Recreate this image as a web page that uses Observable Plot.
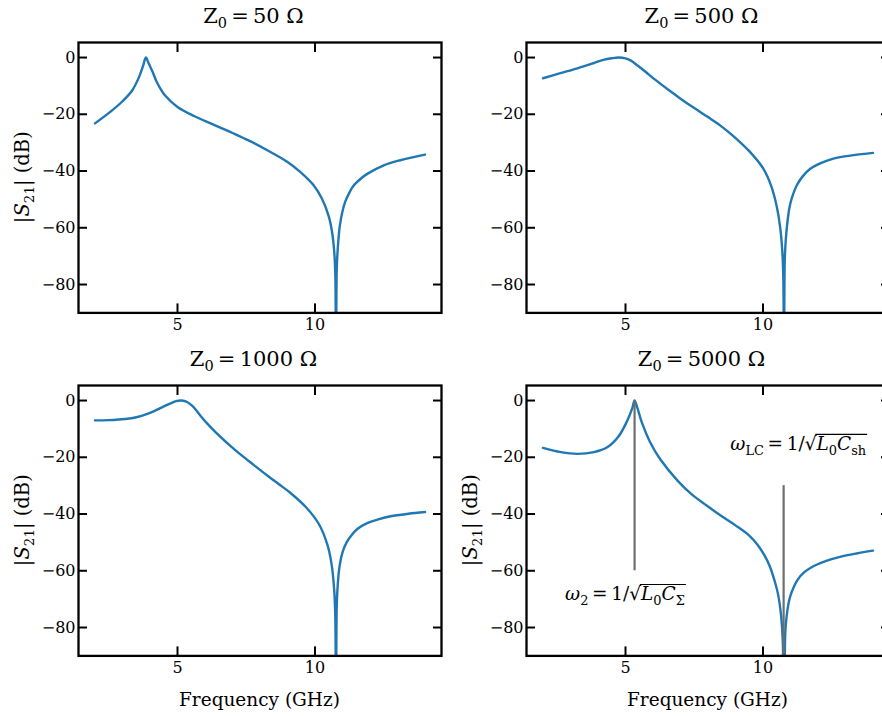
<!DOCTYPE html>
<html><head><meta charset="utf-8">
<script src="https://cdn.jsdelivr.net/npm/d3@7"></script>
<script src="https://cdn.jsdelivr.net/npm/@observablehq/plot@0.6"></script>
<style>
body{margin:0;background:#fff;}
#wrap{position:relative;width:882px;height:716px;overflow:hidden;background:#fff;}
#wrap svg{position:absolute;}
</style></head><body><div id="wrap"></div>
<script>
// ---- data ----
const impedances = ["50", "500", "1000", "5000"];
const xTicks = [5, 10];
const yTicks = [0, -20, -40, -60, -80];

const freq50 = [2.0, 2.6, 3.0, 3.35, 3.6, 3.75, 3.85, 3.95, 4.1, 4.25, 4.55, 5.0, 5.6, 6.25, 7.0, 7.6, 8.25, 9.0, 9.45, 9.95, 10.25, 10.5, 10.62, 10.7, 10.74, 10.765, 10.79, 10.83, 10.9, 11.0, 11.1, 11.25, 11.4, 11.65, 11.9, 12.5, 13.1, 14.0];
const s21_50 = [-23.2, -18.8, -15.4, -11.6, -6.9, -2.9, 0, -2.0, -5.2, -8.7, -13.4, -17.4, -20.6, -23.4, -26.6, -29.3, -32.6, -36.8, -40.2, -45.0, -49.7, -56.0, -61.5, -68.5, -77, -150, -75, -67, -59.5, -54.2, -50.8, -47.6, -45.2, -42.8, -41.0, -38.0, -36.2, -34.2];

const freq500 = [2.0, 2.6, 3.25, 3.8, 4.2, 4.5, 4.75, 5.0, 5.2, 5.45, 5.75, 6.05, 6.65, 7.0, 7.5, 8.0, 8.45, 8.9, 9.5, 10.0, 10.3, 10.5, 10.62, 10.7, 10.74, 10.765, 10.79, 10.83, 10.9, 10.96, 11.05, 11.23, 11.45, 11.72, 12.1, 12.56, 13.29, 14.0];
const s21_500 = [-7.3, -5.6, -3.8, -2.1, -0.8, -0.25, 0, -0.3, -1.1, -2.9, -5.2, -7.6, -12.0, -14.5, -17.8, -21.0, -24.0, -27.5, -33.0, -39.0, -45.3, -52.5, -59.5, -68, -78, -150, -72, -64, -57, -53, -49.5, -45.0, -41.8, -39.2, -37.2, -35.6, -34.4, -33.6];

const freq1000 = [2.0, 2.5, 3.1, 3.5, 3.85, 4.15, 4.45, 4.75, 4.95, 5.15, 5.35, 5.55, 5.8, 6.05, 6.4, 7.1, 7.85, 8.3, 8.7, 9.1, 9.7, 10.15, 10.45, 10.6, 10.7, 10.74, 10.765, 10.79, 10.83, 10.9, 11.0, 11.15, 11.3, 11.55, 11.9, 12.3, 12.75, 13.4, 14.0];
const s21_1000 = [-7.0, -6.9, -6.5, -5.9, -4.9, -3.7, -2.3, -1.0, -0.2, 0, -0.5, -2.0, -4.9, -7.8, -11.3, -17.5, -23.3, -26.7, -29.6, -32.5, -37.9, -43.7, -50.8, -57.5, -67, -77, -150, -73, -64.5, -58, -53.5, -50, -47.8, -45.2, -43.2, -41.9, -40.8, -39.9, -39.3];

const freq5000 = [2.0, 2.65, 3.25, 3.85, 4.35, 4.75, 5.05, 5.25, 5.33, 5.42, 5.6, 5.9, 6.27, 6.9, 7.4, 7.95, 8.5, 9.0, 9.5, 9.8, 10.05, 10.25, 10.45, 10.55, 10.66, 10.72, 10.765, 10.81, 10.86, 10.95, 11.05, 11.25, 11.5, 11.85, 12.3, 12.8, 13.4, 14.0];
const s21_5000 = [-16.7, -18.2, -18.8, -18.2, -16.4, -12.6, -7.4, -2.6, 0, -2.2, -7.9, -14.8, -20.8, -28.3, -33.0, -37.0, -40.8, -44.0, -47.6, -50.8, -54.5, -58.5, -64.5, -68.4, -76, -85, -150, -82, -76, -70.5, -67.3, -63.3, -60.5, -58.3, -56.5, -55.1, -53.9, -52.9];

// annotation lines in the Z0 = 5000 Ω panel
const annotFreq = [5.33, 10.75];
const annotTop = [0, -30];
const annotBottom = [-60, -90];

// ---- layout ----
const FW = 363, FH = 270.4, ML = 78, MR = 22, MT = 44, MB = 62;
const FONT = "DejaVu Serif";
const panels = [
  {f: freq50,   s: s21_50,   z: impedances[0], left: 78,    top: 42.3,  ylab: true, xlab: false},
  {f: freq500,  s: s21_500,  z: impedances[1], left: 526.3, top: 42.3,  ylab: false, xlab: false},
  {f: freq1000, s: s21_1000, z: impedances[2], left: 78,    top: 384.5, ylab: true, xlab: true},
  {f: freq5000, s: s21_5000, z: impedances[3], left: 526.3, top: 384.5, ylab: true, xlab: true, annot: true}
];
const wrap = document.getElementById("wrap");

function mathText(g, cx, cy, parts, fs) {
  const base = cy + 0.34 * fs;
  const t = g.append("text").attr("x", 0).attr("y", base).attr("text-anchor", "start")
    .attr("font-size", fs).attr("font-family", FONT).attr("fill", "black");
  let shifted = false, idx = 0, overStart = -1, overEnd = -1;
  const sub = 0.26 * fs;
  for (const p of parts) {
    const ts = t.append("tspan").text(p.t);
    let dy = 0;
    if (p.sub && !shifted) { dy = sub; shifted = true; }
    else if (!p.sub && shifted) { dy = -sub; shifted = false; }
    if (dy) ts.attr("dy", dy);
    if (p.sub) ts.attr("font-size", 0.7 * fs);
    if (p.it) ts.attr("font-style", "italic");
    if (p.over) { if (overStart < 0) overStart = idx; overEnd = idx + p.t.length - 1; }
    idx += p.t.length;
  }
  const w = t.node().getBBox().width;
  t.attr("x", cx - w / 2);
  if (overStart > 0) {
    const node = t.node();
    const a = node.getExtentOfChar(overStart - 1);
    const b = node.getExtentOfChar(overEnd);
    const yb = base - 0.86 * fs;
    g.append("line").attr("x1", a.x + a.width - 1.2).attr("x2", b.x + b.width + 1)
      .attr("y1", yb).attr("y2", yb).attr("stroke", "black").attr("stroke-width", 1.1);
  }
  return t;
}

for (const p of panels) {
  const marks = [];
  marks.push(
    Plot.line(p.f, {x: p.f, y: p.s, stroke: "#1f77b4", strokeWidth: 2.4, curve: "catmull-rom", clip: true})
  );
  if (p.annot) {
    marks.push(Plot.ruleX(annotFreq, {x: annotFreq, y1: annotTop, y2: annotBottom, stroke: "#6e6e6e", strokeWidth: 2.2}));
  }
  marks.push(
    Plot.axisX({anchor: "bottom", ticks: xTicks, tickSize: -9, tickPadding: 15, strokeWidth: 2, label: null}),
    Plot.axisX({anchor: "top", ticks: xTicks, tickSize: -9, tickFormat: () => "", strokeWidth: 2, label: null}),
    Plot.axisY({anchor: "left", ticks: yTicks, tickSize: -9, tickPadding: 12, strokeWidth: 2, label: null}),
    Plot.axisY({anchor: "right", ticks: yTicks, tickSize: -9, tickFormat: () => "", strokeWidth: 2, label: null}),
    Plot.frame({stroke: "black", strokeWidth: 2.3})
  );
  const svg = Plot.plot({
    width: ML + FW + MR, height: MT + FH + MB,
    marginLeft: ML, marginRight: MR, marginTop: MT, marginBottom: MB,
    x: {domain: [1.4, 14.6]},
    y: {domain: [-90, 5.3]},
    style: {fontFamily: FONT, fontSize: "16px", background: "transparent", overflow: "visible", maxWidth: "none", color: "black"},
    marks
  });
  svg.style.left = (p.left - ML) + "px";
  svg.style.top = (p.top - MT) + "px";
  wrap.appendChild(svg);
  const g = d3.select(svg);
  const sx = svg.scale("x"), sy = svg.scale("y");

  // title
  const tt = g.append("text").attr("x", ML + FW / 2 - 6).attr("y", MT - 18.5)
    .attr("text-anchor", "middle").attr("font-size", 21).attr("font-family", FONT);
  tt.append("tspan").text("Z");
  tt.append("tspan").attr("dy", 5).attr("font-size", 14.5).text("0");
  tt.append("tspan").attr("dy", -5).text("\u2009=\u2009" + p.z + " \u03A9");

  // y label
  if (p.ylab) {
    const yl = g.append("text")
      .attr("transform", `translate(${ML - 49},${MT + FH / 2}) rotate(-90)`)
      .attr("text-anchor", "middle").attr("font-size", 19.5).attr("font-family", FONT);
    yl.append("tspan").text("|");
    yl.append("tspan").attr("font-style", "italic").text("S");
    yl.append("tspan").attr("dy", 4.5).attr("font-size", 13.5).text("21");
    yl.append("tspan").attr("dy", -4.5).text("| (dB)");
  }
  // x label
  if (p.xlab) {
    g.append("text").attr("x", ML + FW / 2).attr("y", MT + FH + 51)
      .attr("text-anchor", "middle").attr("font-size", 18.5).attr("font-family", FONT)
      .text("Frequency (GHz)");
  }
  // annotations
  if (p.annot) {
    mathText(g, sx.apply(5.0), sy.apply(-68.4), [
      {t: "\u03C9", it: true}, {t: "2", sub: true}, {t: "\u2009=\u20091/\u221A"},
      {t: "L", it: true, over: true}, {t: "0", sub: true, over: true},
      {t: "C", it: true, over: true}, {t: "\u03A3", sub: true, over: true}
    ], 18.5);
    mathText(g, sx.apply(11.3), sy.apply(-15.5), [
      {t: "\u03C9", it: true}, {t: "LC", sub: true}, {t: "\u2009=\u20091/\u221A"},
      {t: "L", it: true, over: true}, {t: "0", sub: true, over: true},
      {t: "C", it: true, over: true}, {t: "sh", sub: true, over: true}
    ], 18.5);
  }
}
</script></body></html>
